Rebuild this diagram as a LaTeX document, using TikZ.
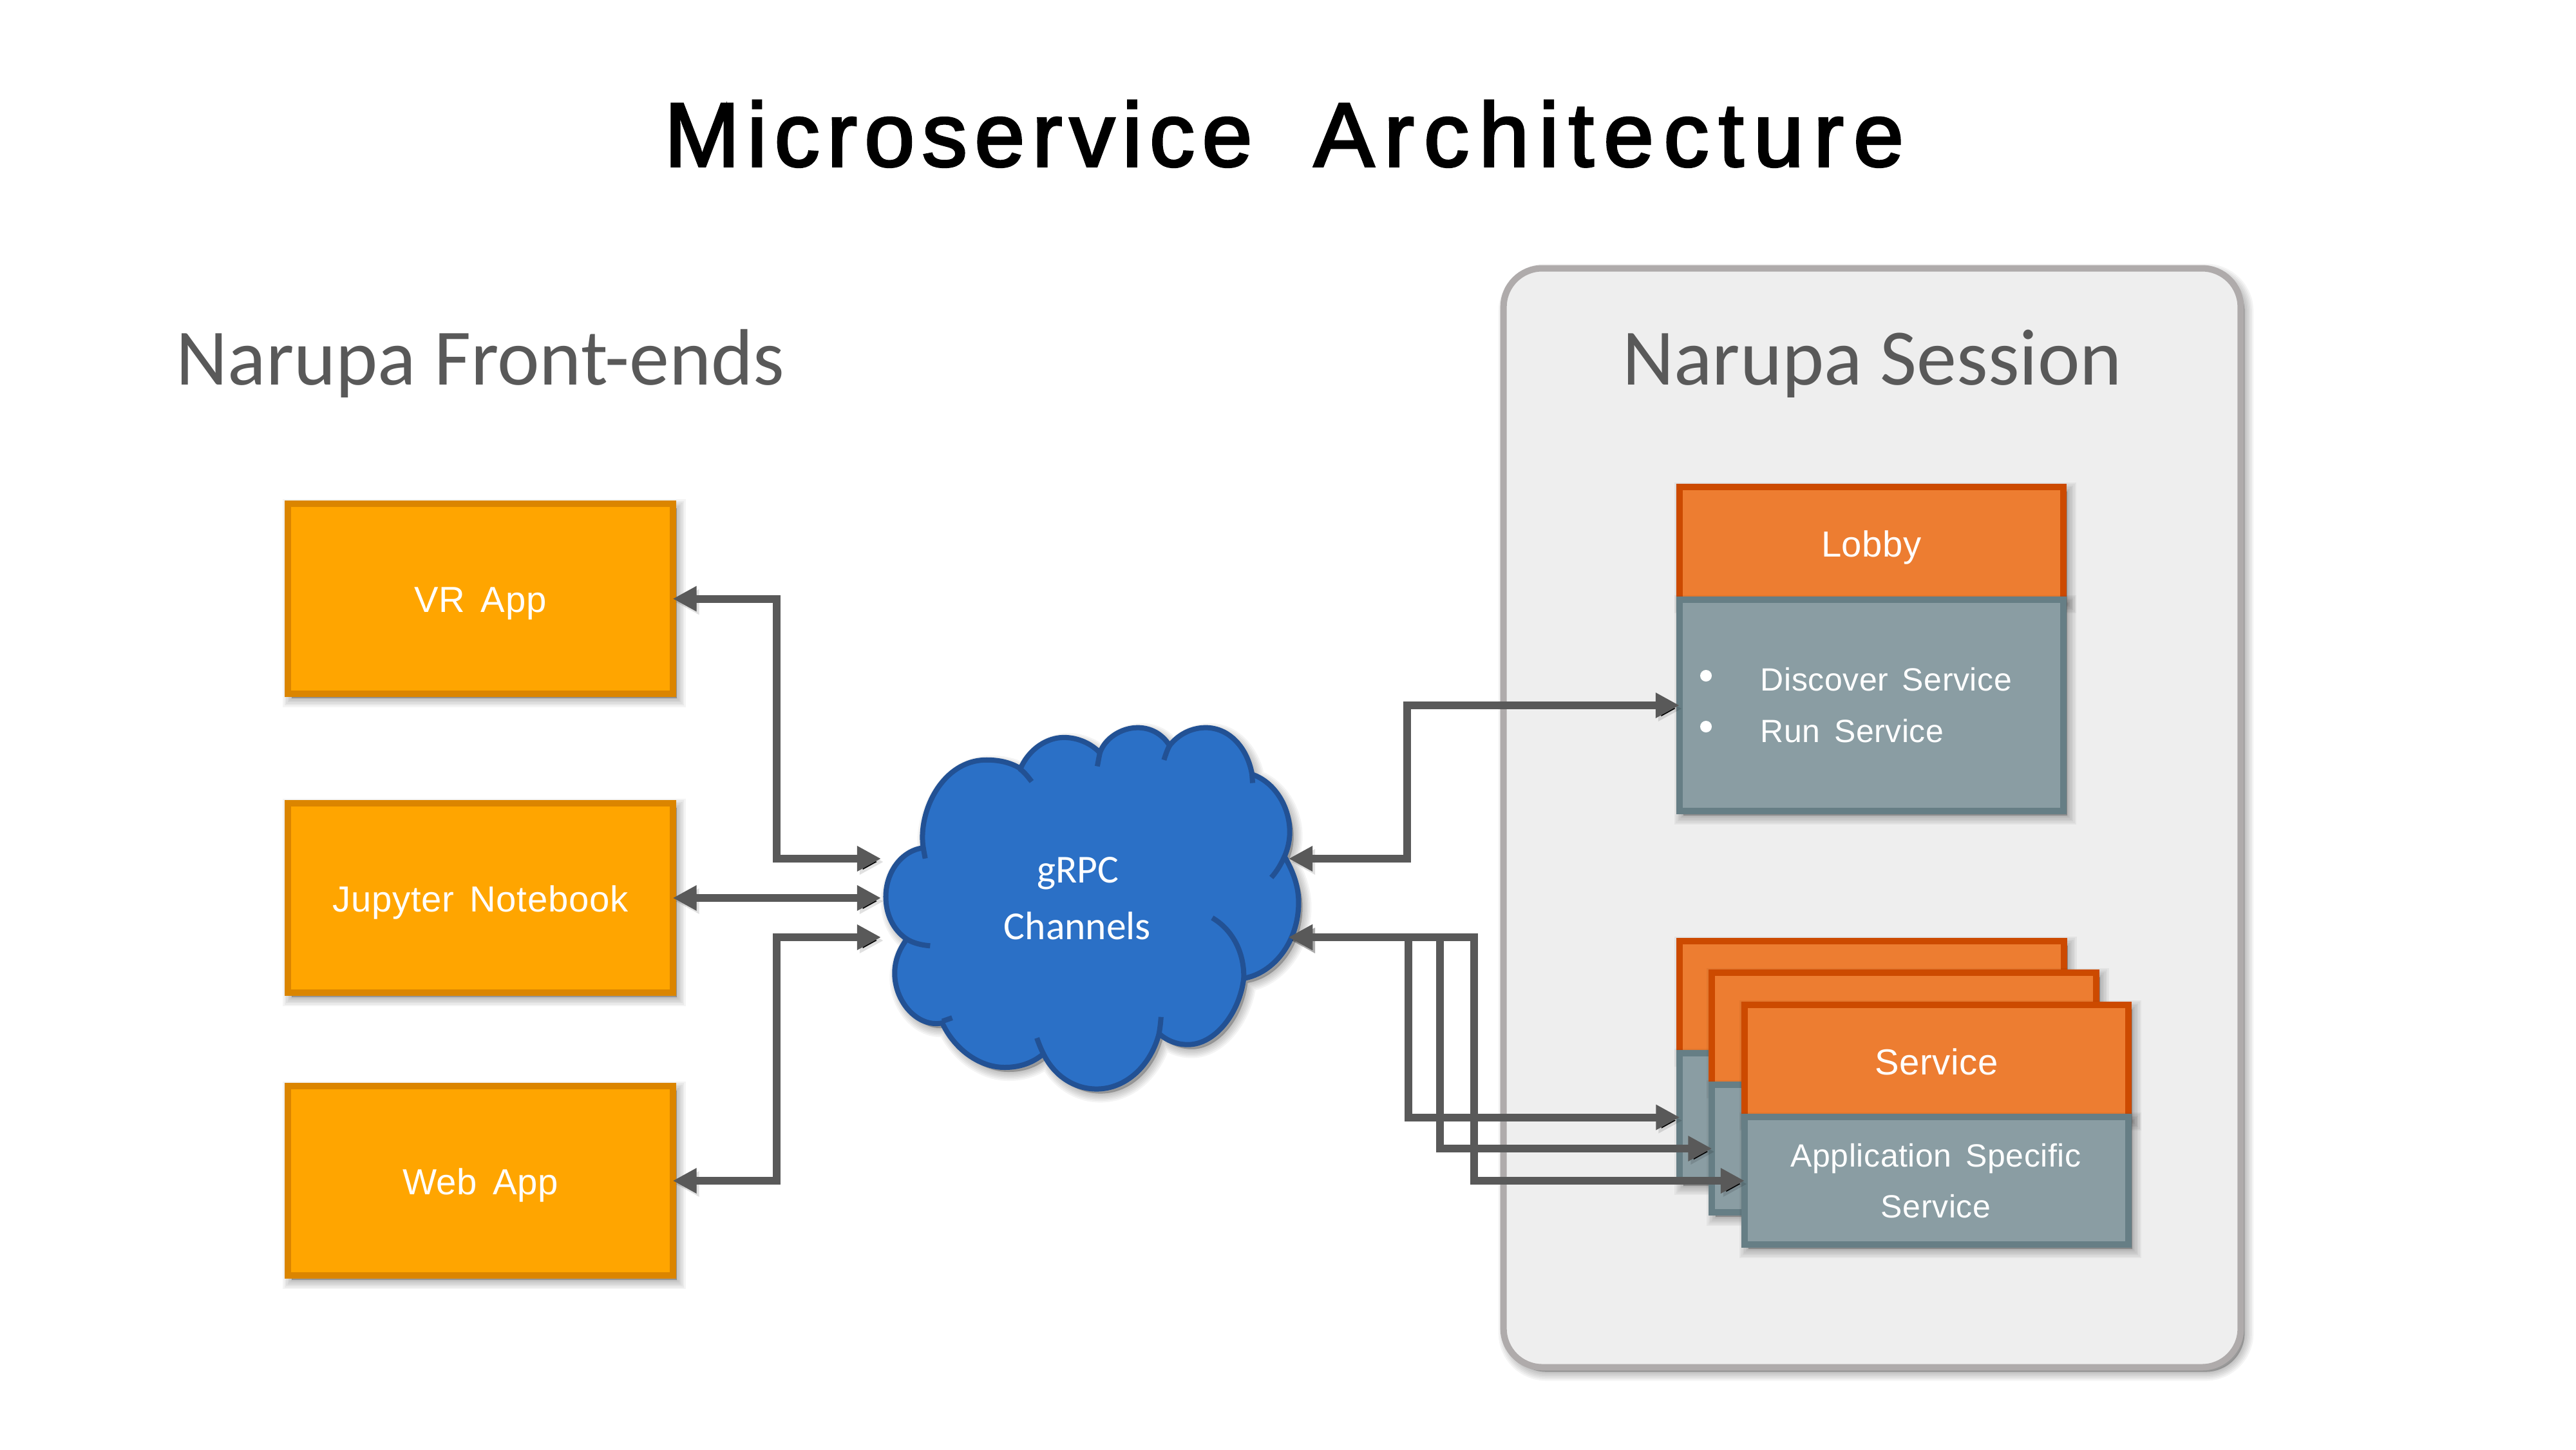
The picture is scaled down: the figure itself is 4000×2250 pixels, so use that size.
\documentclass[tikz,border=0pt]{standalone}
\usepackage{fontspec}
\usetikzlibrary{arrows.meta,calc}
\setmainfont{Liberation Sans}
\newfontfamily\titlefonta[LetterSpace=8,WordSpace=1.9,FakeBold=2.5]{Liberation Sans}
\newfontfamily\titlefontb[LetterSpace=10.7,FakeBold=2.5]{Liberation Sans}
\newfontfamily\headfont{Carlito}
\newfontfamily\labfont[LetterSpace=1.2,WordSpace=1.5]{Liberation Sans}
\definecolor{frontfill}{HTML}{FFA500}
\definecolor{frontline}{HTML}{DB8500}
\definecolor{headfill}{HTML}{ED7D31}
\definecolor{headline}{HTML}{CC4A00}
\definecolor{bodyfill}{HTML}{8A9DA3}
\definecolor{bodyline}{HTML}{667E85}
\definecolor{panelfill}{HTML}{EEEEEE}
\definecolor{panelline}{HTML}{AFABAB}
\definecolor{cloudfill}{HTML}{2B70C6}
\definecolor{cloudline}{HTML}{225194}
\definecolor{connline}{HTML}{595959}
\tikzset{
  shadowlayer/.style={preaction={draw=black,fill=black,draw opacity=.042,fill opacity=.042,line width=#1,transform canvas={shift={(.06cm,-.07cm)}}}},
  softshadow/.style={shadowlayer=.28cm,shadowlayer=.23cm,shadowlayer=.18cm,shadowlayer=.13cm,shadowlayer=.08cm,shadowlayer=.03cm},
  boxbase/.style={rectangle,outer sep=0pt,inner sep=0pt,line width=.1cm,softshadow,text=white,font=\labfont\fontsize{16}{20}\selectfont},
  frontbox/.style={boxbase,draw=frontline,fill=frontfill,minimum width=5.97cm,minimum height=2.94cm,text height=.42cm,text depth=0pt},
  headbox/.style={boxbase,draw=headline,fill=headfill,minimum width=5.96cm,minimum height=1.74cm,text height=.42cm,text depth=0pt},
  bodybox/.style={boxbase,draw=bodyline,fill=bodyfill,minimum width=5.96cm},
  panelbox/.style={rectangle,outer sep=0pt,draw=panelline,fill=panelfill,line width=.1cm,rounded corners=.6cm,softshadow,minimum width=11.44cm,minimum height=17.05cm},
  conn/.style={preaction={draw=black,draw opacity=.12,transform canvas={shift={(.04cm,-.05cm)}}},draw=connline,line width=.12cm,{Triangle[length=.37cm,width=.37cm]}-{Triangle[length=.37cm,width=.37cm]}},
  cloudstroke/.style={draw=cloudline,line width=.08cm},
  cloudlab/.style={anchor=base,text=white,inner sep=0pt,font=\headfont\fontsize{17.5}{20}\selectfont},
  sublab/.style={anchor=base,text=white,inner sep=0pt,font=\labfont\fontsize{14.2}{20}\selectfont},
  heading/.style={anchor=base,text=connline,inner sep=0pt,font=\headfont\fontsize{35.3}{40}\selectfont}
}
\begin{document}
\begin{tikzpicture}[x=.01cm,y=-.01cm]
\useasboundingbox (0,0) rectangle (4000,2250);
\fill[white] (0,0) rectangle (4000,2250);
\node[anchor=base,inner sep=0pt,font=\fontsize{40}{44}\selectfont] (title) at (1994,258) {\titlefonta Microservice {}\titlefontb Architecture};
\node[panelbox] (panel) at (2907,1269.5) {};
\node[heading] (frontlab) at (746,597) {Narupa Front-ends};
\node[heading] (sesslab) at (2907,597) {Narupa Session};
% front-end boxes
\node[frontbox] (vr) at (746,929.5) {VR App};
\node[frontbox] (jup) at (746,1394) {Jupyter Notebook};
\node[frontbox] (web) at (746,1833) {Web App};
% cloud
\begin{scope}[shift={(1300,1050)},x=.005102cm,y=-.004464cm]
\path[softshadow,fill=cloudfill,cloudstroke,line join=round]
  (262,595) .. controls (245,470) and (320,290) .. (455,290) .. controls (495,290) and (530,300) .. (558,320)
  .. controls (585,250) and (640,212) .. (690,212) .. controls (735,212) and (775,235) .. (800,265)
  .. controls (815,215) and (865,178) .. (915,178) .. controls (955,178) and (990,200) .. (1012,240)
  .. controls (1040,200) and (1080,178) .. (1122,178) .. controls (1195,178) and (1250,250) .. (1263,340)
  .. controls (1330,365) and (1378,450) .. (1378,540) .. controls (1378,570) and (1372,600) .. (1362,625)
  .. controls (1390,680) and (1405,730) .. (1405,785) .. controls (1405,920) and (1330,1030) .. (1238,1048)
  .. controls (1225,1170) and (1150,1278) .. (1068,1278) .. controls (1035,1278) and (1005,1265) .. (980,1240)
  .. controls (955,1350) and (880,1432) .. (790,1432) .. controls (720,1432) and (660,1385) .. (628,1310)
  .. controls (595,1342) and (555,1357) .. (510,1357) .. controls (430,1357) and (355,1290) .. (320,1203)
  .. controls (245,1220) and (175,1130) .. (175,1030) .. controls (175,985) and (190,945) .. (212,912)
  .. controls (170,880) and (148,825) .. (148,765) .. controls (148,680) and (195,605) .. (262,595) -- cycle;
\draw[cloudstroke] (555,320) .. controls (570,332) and (582,350) .. (592,365);
\draw[cloudstroke] (800,265) .. controls (797,280) and (795,295) .. (792,312);
\draw[cloudstroke] (1012,240) .. controls (1005,255) and (1000,272) .. (995,290);
\draw[cloudstroke] (1263,340) -- (1265,370);
\draw[cloudstroke] (1362,625) .. controls (1352,650) and (1340,675) .. (1322,698);
\draw[cloudstroke] (1238,1048) .. controls (1240,960) and (1205,880) .. (1142,838);
\draw[cloudstroke] (980,1240) .. controls (983,1220) and (985,1200) .. (986,1182);
\draw[cloudstroke] (628,1310) .. controls (620,1292) and (614,1275) .. (608,1255);
\draw[cloudstroke] (320,1197) -- (350,1185);
\draw[cloudstroke] (212,912) .. controls (232,926) and (258,933) .. (283,935);
\draw[cloudstroke] (262,595) -- (268,632);
\end{scope}
\node[cloudlab] (grpc) at (1674,1370) {gRPC};
\node[cloudlab] (chan) at (1673,1458) {Channels};
\coordinate (p1) at (1368,1333);
\coordinate (p2) at (1368,1394);
\coordinate (p3) at (1368,1455);
\coordinate (q1) at (2001,1333);
\coordinate (q2) at (2001,1455);
\coordinate (busA) at (1206,1333);
\coordinate (busB) at (1206,1455);
\coordinate (busC) at (2185,1333);
% lobby
\node[headbox,minimum height=1.75cm] (lobbyh) at (2906,843.5) {Lobby};
\node[bodybox,minimum height=3.28cm] (lobbyb) at (2906,1095) {};
\node[sublab] (disc) at (2733,1072.5) [anchor=base west] {Discover Service};
\node[sublab] (run) at (2733,1152) [anchor=base west] {Run Service};
\fill[white] (2649,1049) circle (9);
\fill[white] (2649,1128) circle (9);
% services
\node[headbox] (s1h) at (2906.5,1548) {};
\node[bodybox,minimum height=1.99cm] (s1b) at (2906.5,1734.5) {};
\node[headbox] (s2h) at (2956.5,1597) {};
\node[bodybox,minimum height=1.98cm] (s2b) at (2956.5,1783) {};
\node[headbox] (s3h) at (3007,1647) {Service};
\node[bodybox,minimum height=1.98cm] (s3b) at (3007,1833) {};
\node[sublab] (app) at (3006,1811) {Application Specific};
\node[sublab] (svc) at (3006,1890) {Service};
% connectors
\draw[conn] (vr.east) -| (busA) -- (p1);
\draw[conn] (jup.east) -- (p2);
\draw[conn] (web.east) -| (busB) -- (p3);
\draw[conn] (q1) -- (busC) |- (lobbyb.west);
\coordinate (v1) at (2187,1455);
\coordinate (v2) at (2236,1455);
\coordinate (v3) at (2289,1455);
\draw[conn] (q2) -- (v1) |- (s1b.west);
\draw[conn] (q2) -- (v2) |- (s2b.west);
\draw[conn] (q2) -- (v3) |- (s3b.west);
\end{tikzpicture}
\end{document}
